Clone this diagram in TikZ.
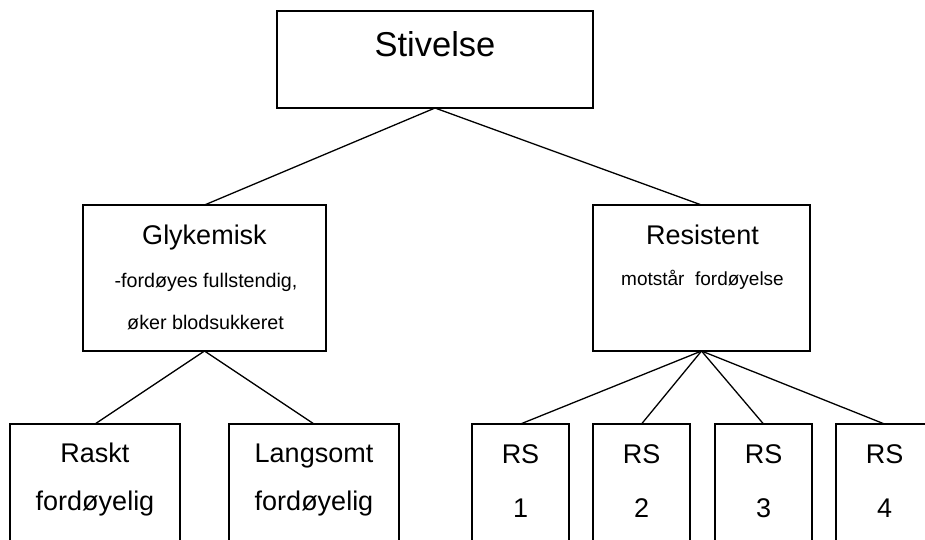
\documentclass[tikz,border=0pt]{standalone}
\usepackage{fontspec}
\setmainfont{Liberation Sans}
\begin{document}
\begin{tikzpicture}[x=1pt,y=-1pt,
  box/.style={draw=black,line width=1.6pt,inner sep=0pt,outer sep=0pt,rectangle},
  conn/.style={draw=black,line width=1.3pt},
  big/.style={anchor=base,inner sep=0pt,font=\fontsize{27}{32}\selectfont},
  huge/.style={anchor=base,inner sep=0pt,font=\fontsize{34.5}{40}\selectfont},
  small/.style={anchor=base,inner sep=0pt,font=\fontsize{19.7}{23}\selectfont},
  smaller/.style={anchor=base,inner sep=0pt,font=\fontsize{19}{23}\selectfont}]
\useasboundingbox (0,0) rectangle (925,539);
\clip (0,0) rectangle (925,539);
% boxes
\node[box,minimum width=316pt,minimum height=97pt] (stiv) at (435,59.5) {};
\node[box,minimum width=243pt,minimum height=146pt] (gly) at (204.5,278) {};
\node[box,minimum width=217pt,minimum height=146pt] (res) at (701.5,278) {};
\node[box,minimum width=170pt,minimum height=136pt] (rask) at (95,492) {};
\node[box,minimum width=170pt,minimum height=136pt] (lang) at (314,492) {};
\node[box,minimum width=97pt,minimum height=136pt] (rs1) at (520.5,492) {};
\node[box,minimum width=97pt,minimum height=136pt] (rs2) at (641.5,492) {};
\node[box,minimum width=97pt,minimum height=136pt] (rs3) at (763.5,492) {};
\node[box,minimum width=97pt,minimum height=136pt] (rs4) at (884.5,492) {};
% connectors
\draw[conn] (stiv.south) -- (gly.north);
\draw[conn] (stiv.south) -- (res.north);
\draw[conn] (gly.south) -- (rask.north);
\draw[conn] (gly.south) -- (lang.north);
\draw[conn] (res.south) -- (rs1.north);
\draw[conn] (res.south) -- (rs2.north);
\draw[conn] (res.south) -- (rs3.north);
\draw[conn] (res.south) -- (rs4.north);
% texts
\node[huge] (tstiv) at (435,56) {Stivelse};
\node[big] (tgly) at (204.5,244) {Glykemisk};
\node[small] (tgly2) at (206,287) {-fordøyes fullstendig,};
\node[small] (tgly3) at (205.5,329) {øker blodsukkeret};
\node[big] (tres) at (702.5,244) {Resistent};
\node[smaller] (tres2) at (702.5,285) {motstår\ \ fordøyelse};
\node[big] (trask1) at (95,462) {Raskt};
\node[big] (trask2) at (95,510) {fordøyelig};
\node[big] (tlang1) at (314,462) {Langsomt};
\node[big] (tlang2) at (314,510) {fordøyelig};
\node[big] (trs1a) at (520.5,463) {RS};
\node[big] (trs1b) at (520.5,517) {1};
\node[big] (trs2a) at (641.5,463) {RS};
\node[big] (trs2b) at (641.5,517) {2};
\node[big] (trs3a) at (763.5,463) {RS};
\node[big] (trs3b) at (763.5,517) {3};
\node[big] (trs4a) at (884.5,463) {RS};
\node[big] (trs4b) at (884.5,517) {4};
\end{tikzpicture}
\end{document}
